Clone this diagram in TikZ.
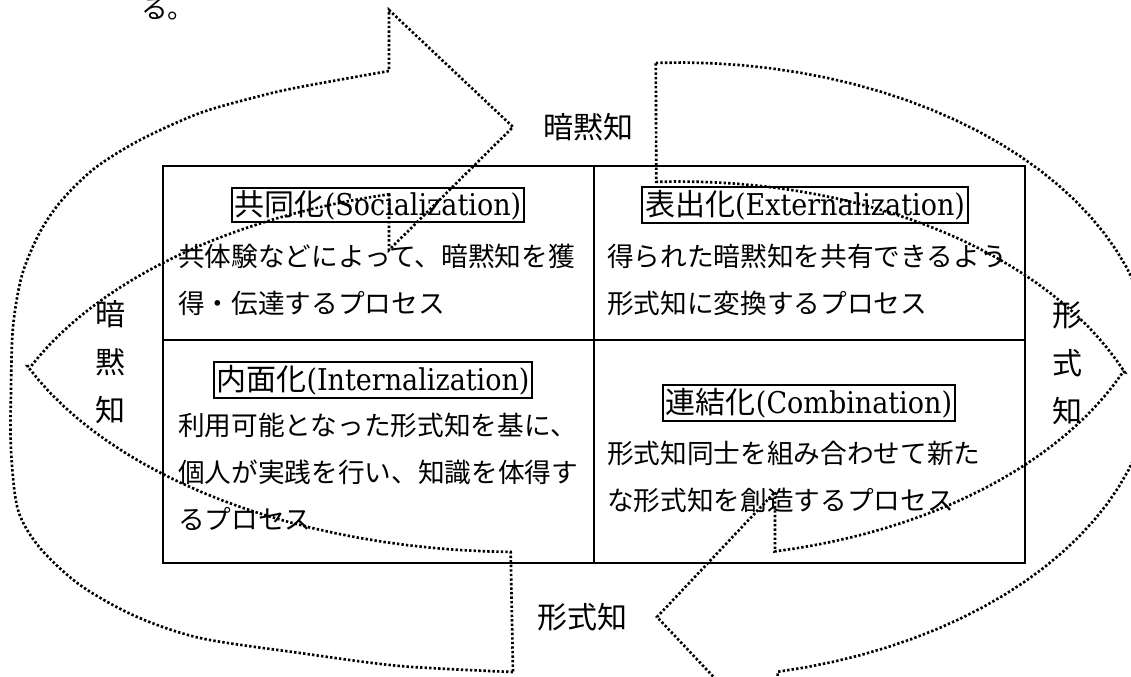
\documentclass[tikz,border=0pt]{standalone}
\usepackage{fontspec}
\newfontfamily\jp{Noto Sans CJK JP}
\newfontfamily\lat{DejaVu Serif Condensed}
\usetikzlibrary{positioning}

\begin{document}
\begin{tikzpicture}[x=0.75pt,y=-0.75pt,
    cell/.style={line width=1.5pt},
    title/.style={draw,line width=1.5pt,inner sep=2pt,font=\lat\fontsize{22.5}{28}\selectfont},
    desc/.style={anchor=north west,align=left,inner sep=0pt,font=\jp\fontsize{20}{35.25}\selectfont},
    side/.style={align=center,inner sep=0pt,font=\jp\fontsize{22.5}{36}\selectfont},
    flow/.style={line width=2pt,dash pattern=on 1.8pt off 1.6pt}]

        \useasboundingbox (0,0) rectangle (1131,677);
        \clip (0,0) rectangle (1131,677);

        \node at (141,19) [anchor=base west,inner sep=0pt,font=\jp\fontsize{20}{24}\selectfont] (tail) {る。};

        % four cells
        \draw[cell] (163,166) rectangle (1025,563);
        \draw[cell] (594,166) -- (594,563);
        \draw[cell] (163,340) -- (1025,340);

        \node at (378,205) [title] (soc) {{\jp 共同化}(Socialization)};
        \node at (805,205) [title] (ext) {{\jp 表出化}(Externalization)};
        \node at (373,380) [title] (int) {{\jp 内面化}(Internalization)};
        \node at (809,403) [title] (com) {{\jp 連結化}(Combination)};

        \node at (178,244) [desc] (socText) {共体験などによって、暗黙知を獲\\得・伝達するプロセス};
        \node at (607,244) [desc] (extText) {得られた暗黙知を共有できるよう\\形式知に変換するプロセス};
        \node at (178,413) [desc] (intText) {利用可能となった形式知を基に、\\個人が実践を行い、知識を体得す\\るプロセス};
        \node at (607,441) [desc] (comText) {形式知同士を組み合わせて新た\\な形式知を創造するプロセス};

        \node at (588,127) [side] (tacitTop) {暗黙知};
        \node at (582,617) [side] (explicitBottom) {形式知};
        \node at (110,362) [side] (tacitLeft) {暗\\黙\\知};
        \node at (1067,363) [side] (explicitRight) {形\\式\\知};

        % left curved arrow
        \draw[flow] plot[smooth] coordinates {(513,672) (400,666) (300,653) (200,638) (135,616) (80,585) (40,548) (18,510) (11,450) (11,390) (13,327) (22,275) (40,232) (62,200) (95,168) (140,140) (200,113) (260,96) (300,87) (389,71)}
            -- (389,10) -- (513,127) -- (389,250) -- (389,195)
            -- plot[domain=256:204,samples=25] ({520+535*cos(\x)},{490+305*sin(\x)})
            -- plot[domain=157:91,samples=25] ({520+535*cos(\x)},{247+305*sin(\x)}) -- cycle;

        % right curved arrow
        \draw[flow] plot[domain=267.2:438,samples=50] ({679+475*cos(\x)},{370.5+308*sin(\x)})
            -- (775,742) -- (657,617) -- (775,492) -- (775,550)
            -- plot[domain=78.6:23.4,samples=25] ({679+484*cos(\x)},{249.5+308*sin(\x)})
            -- plot[domain=337.6:267.3,samples=30] ({679+482*cos(\x)},{489.5+308*sin(\x)}) -- cycle;
    \end{tikzpicture}
\end{document}
